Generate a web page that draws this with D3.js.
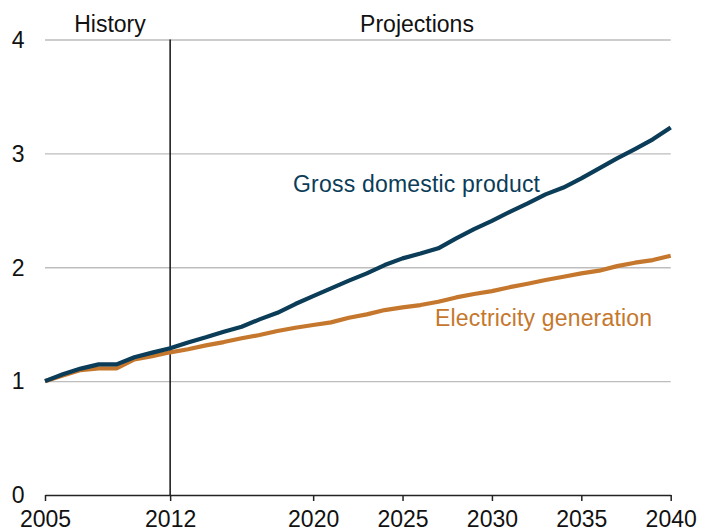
<!DOCTYPE html>
<html>
<head>
<meta charset="utf-8">
<script src="https://cdn.jsdelivr.net/npm/d3@7"></script>
<style>
  body { margin: 0; background: #fff; }
  svg { display: block; font-family: "Liberation Sans", Arial, sans-serif; }
</style>
</head>
<body>
<svg id="chart" width="714" height="531"></svg>
<script>
const years = [2005,2006,2007,2008,2009,2010,2011,2012,2013,2014,2015,2016,2017,2018,2019,2020,2021,2022,2023,2024,2025,2026,2027,2028,2029,2030,2031,2032,2033,2034,2035,2036,2037,2038,2039,2040];
const gdp = [1.00,1.06,1.11,1.147,1.147,1.209,1.25,1.288,1.34,1.385,1.434,1.478,1.542,1.60,1.677,1.747,1.815,1.882,1.946,2.019,2.078,2.12,2.166,2.254,2.335,2.408,2.487,2.561,2.64,2.70,2.78,2.868,2.956,3.038,3.123,3.228];
const elec = [1.00,1.05,1.097,1.112,1.112,1.19,1.22,1.253,1.28,1.314,1.343,1.376,1.405,1.44,1.469,1.493,1.516,1.557,1.586,1.624,1.648,1.668,1.697,1.735,1.765,1.790,1.825,1.855,1.888,1.917,1.946,1.97,2.01,2.04,2.063,2.101];
const xTicks = [2005,2012,2020,2025,2030,2035,2040];
const yTicks = [0,1,2,3,4];
const seriesNames = ["Gross domestic product","Electricity generation"];
const periodLabels = ["History","Projections"];
const divideYear = 2012;

const svg = d3.select("#chart");
const x = d3.scaleLinear().domain([2005,2040]).range([45,670.7]);
const y = d3.scaleLinear().domain([0,4]).range([495,39.5]);

// gridlines
svg.append("g")
  .attr("transform","translate(45,0)")
  .call(d3.axisLeft(y).tickValues(yTicks.filter(d=>d>0)).tickSize(-(670.7-45)).tickFormat(""))
  .call(g=>g.select(".domain").remove())
  .call(g=>g.selectAll("line").attr("stroke","#bdbdbd").attr("stroke-width",1.3));

// y labels
svg.append("g").selectAll("text").data(yTicks).join("text")
  .attr("x",24.5).attr("y",d=>y(d)).attr("dy","0.36em")
  .attr("text-anchor","end").attr("font-size",23).attr("fill","#111")
  .text(d=>d);

// x axis
const xa = svg.append("g").attr("transform","translate(0,495)")
  .call(d3.axisBottom(x).tickValues(xTicks).tickFormat(d3.format("d")).tickSize(6).tickSizeOuter(0));
xa.select(".domain").attr("stroke","#222").attr("stroke-width",1.5);
xa.selectAll(".tick line").attr("stroke","#222").attr("stroke-width",1.5);
xa.selectAll(".tick text").attr("font-size",23).attr("fill","#111")
  .attr("y",null).attr("dy",null).attr("transform","translate(0,32)")
  .attr("font-family","Liberation Sans, Arial, sans-serif");

// divider
svg.append("line")
  .attr("x1",x(divideYear)).attr("x2",x(divideYear))
  .attr("y1",y(4)).attr("y2",y(0))
  .attr("stroke","#111").attr("stroke-width",1.5);

// period labels
svg.append("text").attr("x",110).attr("y",32).attr("text-anchor","middle")
  .attr("font-size",23).attr("fill","#111").text(periodLabels[0]);
svg.append("text").attr("x",417).attr("y",32).attr("text-anchor","middle")
  .attr("font-size",23).attr("fill","#111").text(periodLabels[1]);

const line = d3.line().x((d,i)=>x(years[i])).y(d=>y(d));
svg.append("path").datum(elec).attr("d",line)
  .attr("fill","none").attr("stroke","#c5782d").attr("stroke-width",4.2).attr("stroke-linejoin","round");
svg.append("path").datum(gdp).attr("d",line)
  .attr("fill","none").attr("stroke","#0b3c58").attr("stroke-width",4.2).attr("stroke-linejoin","round");

svg.append("text").attr("x",293).attr("y",192).attr("font-size",23)
  .attr("fill","#0b3c58").attr("textLength",247).text(seriesNames[0]);
svg.append("text").attr("x",435).attr("y",326).attr("font-size",23)
  .attr("fill","#c5782d").attr("textLength",217).text(seriesNames[1]);
</script>
</body>
</html>
